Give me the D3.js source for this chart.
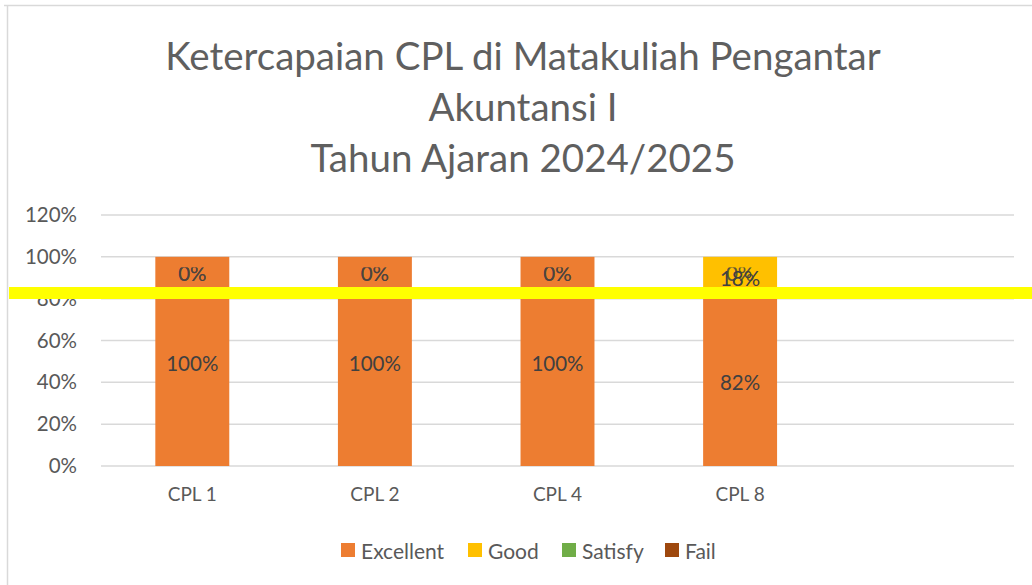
<!DOCTYPE html>
<html>
<head>
<meta charset="utf-8">
<script src="https://cdn.jsdelivr.net/npm/d3@7"></script>
<style>
  html, body { margin: 0; padding: 0; background: #fff; }
  svg { display: block; }
  text { font-family: Lato, "Open Sans", sans-serif; }
</style>
</head>
<body>
<svg id="chart" width="1032" height="585"></svg>
<script>
// ---- data ----
const categories = ["CPL 1", "CPL 2", "CPL 4", "CPL 8", ""];
const seriesNames = ["Excellent", "Good", "Satisfy", "Fail"];
const excellent = [1.00, 1.00, 1.00, 0.82];
const good      = [0.00, 0.00, 0.00, 0.18];
const satisfy   = [0.00, 0.00, 0.00, 0.00];
const fail      = [0.00, 0.00, 0.00, 0.00];
const yTicks = [0, 0.2, 0.4, 0.6, 0.8, 1.0, 1.2];
const titleLines = ["Ketercapaian CPL di Matakuliah Pengantar", "Akuntansi I", "Tahun Ajaran 2024/2025"];

const colors = {Excellent: "#ED7D31", Good: "#FFC000", Satisfy: "#70AD47", Fail: "#9E480E"};
const seriesValues = {Excellent: excellent, Good: good, Satisfy: satisfy, Fail: fail};

const rows = categories.slice(0, excellent.length).map((c, i) => {
  const r = {cat: c};
  seriesNames.forEach(s => r[s] = seriesValues[s][i]);
  return r;
});

const svg = d3.select("#chart");

// chart frame (top and left border)
svg.append("line").attr("x1", 4).attr("x2", 1032).attr("y1", 5.5).attr("y2", 5.5)
  .attr("stroke", "#D9D9D9").attr("stroke-width", 1.5);
svg.append("line").attr("x1", 7.5).attr("x2", 7.5).attr("y1", 5).attr("y2", 585)
  .attr("stroke", "#D9D9D9").attr("stroke-width", 1.5);

// title
svg.append("g").selectAll("text").data(titleLines).join("text")
  .attr("x", 523).attr("y", (d, i) => 70 + i * 51)
  .attr("text-anchor", "middle")
  .attr("font-size", 38.5).attr("font-weight", 400)
  .attr("fill", "#5f5f5f")
  .text(d => d);

// scales
const x = d3.scaleBand().domain(categories).range([101, 1014])
  .paddingInner(0.595).paddingOuter(0.2975);
const y = d3.scaleLinear().domain([0, 1.2]).range([466, 215]);

// grid lines
svg.append("g").selectAll("line").data(yTicks).join("line")
  .attr("x1", 101).attr("x2", 1014)
  .attr("y1", d => y(d)).attr("y2", d => y(d))
  .attr("stroke", "#D9D9D9").attr("stroke-width", 1.5);

// y axis labels
const yAxis = svg.append("g").attr("transform", "translate(95,0)")
  .call(d3.axisLeft(y).tickValues(yTicks).tickFormat(d3.format(".0%")).tickSize(0).tickPadding(18));
yAxis.select(".domain").remove();
yAxis.selectAll("text").attr("font-size", 20.5).attr("fill", "#595959")
  .style("font-family", "Lato, 'Open Sans', sans-serif");

// x axis labels
const xAxis = svg.append("g").attr("transform", "translate(0,466)")
  .call(d3.axisBottom(x).tickSize(0).tickPadding(22));
xAxis.select(".domain").remove();
xAxis.selectAll("text").attr("font-size", 19).attr("fill", "#595959")
  .style("font-family", "Lato, 'Open Sans', sans-serif");

// stacked bars
const stack = d3.stack().keys(seriesNames)(rows);
const layers = svg.append("g").selectAll("g").data(stack).join("g")
  .attr("fill", d => colors[d.key]);
layers.selectAll("rect").data(d => d).join("rect")
  .attr("x", d => x(d.data.cat))
  .attr("width", x.bandwidth())
  .attr("y", d => y(d[1]))
  .attr("height", d => y(d[0]) - y(d[1]));

// data labels (zero-value labels first, then non-zero labels on top)
svg.append("clipPath").attr("id", "labclip")
  .append("rect").attr("x", 0).attr("y", 267.5).attr("width", 1032).attr("height", 320);
const labelsG = svg.append("g").attr("clip-path", "url(#labclip)");
const labelData = [];
stack.forEach(layer => layer.forEach(d => labelData.push(d)));
labelData.sort((a, b) => ((a[1] - a[0]) === 0 ? 0 : 1) - ((b[1] - b[0]) === 0 ? 0 : 1));
labelsG.selectAll("text").data(labelData).join("text")
  .attr("x", d => x(d.data.cat) + x.bandwidth() / 2)
  .attr("y", d => {
    const v = d[1] - d[0];
    if (v === 0) return y(d[1]) + 16;
    return (y(d[0]) + y(d[1])) / 2 + 2;
  })
  .attr("text-anchor", "middle")
  .attr("dominant-baseline", "central")
  .attr("font-size", 20.5).attr("fill", "#404040")
  .attr("fill-opacity", d => (d[1] - d[0]) === 0 ? 0.6 : 1)
  .text(d => d3.format(".0%")(d[1] - d[0]));

// legend
const legendX = [341, 468, 562, 665];
const legend = svg.append("g").selectAll("g").data(seriesNames).join("g")
  .attr("transform", (d, i) => `translate(${legendX[i]},543)`);
legend.append("rect").attr("width", 14).attr("height", 14).attr("fill", d => colors[d]);
legend.append("text").attr("x", 20).attr("y", 7).attr("dominant-baseline", "central")
  .attr("font-size", 21).attr("fill", "#595959").text(d => d);

// yellow highlight band
svg.append("rect").attr("x", 9).attr("y", 287).attr("width", 1023).attr("height", 12)
  .attr("fill", "#FFFF00");
</script>
</body>
</html>
